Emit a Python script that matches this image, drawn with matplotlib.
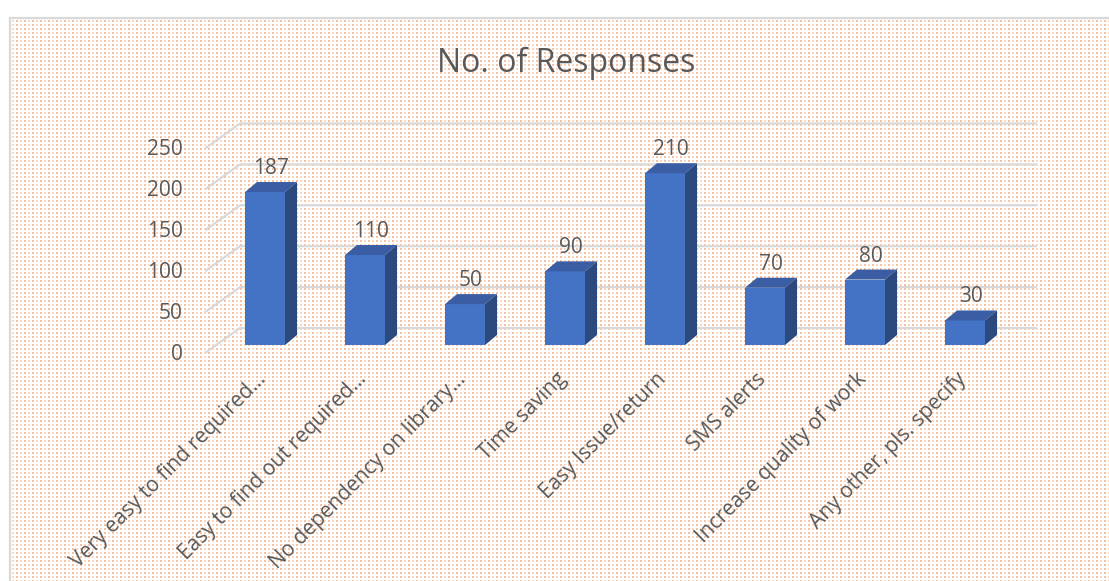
import numpy as np
import matplotlib
matplotlib.use("Agg")
import matplotlib.pyplot as plt
from matplotlib.patches import Polygon, Rectangle
from matplotlib.lines import Line2D

# ---- data -------------------------------------------------------------
categories = [
    "Very easy to find required…",
    "Easy to find out required…",
    "No dependency on library…",
    "Time saving",
    "Easy Issue/return",
    "SMS alerts",
    "Increase quality of work",
    "Any other, pls. specify",
]
responses = [187, 110, 50, 90, 210, 70, 80, 30]
y_ticks = [0, 50, 100, 150, 200, 250]
title = "No. of Responses"

# ---- figure -----------------------------------------------------------
W, H, DPI = 1109, 581, 100
plt.rcParams["font.family"] = ["Open Sans", "DejaVu Sans"]
TEXT = "#595959"
GRID = "#D9D9D9"

fig = plt.figure(figsize=(W / DPI, H / DPI), dpi=DPI)
fig.patch.set_facecolor("white")

# dotted peach fill of the chart area
FX, FY = 10, 18
yy, xx = np.mgrid[0:H, 0:W]
img = np.ones((H, W, 3))
dot = ((xx % 4) < 2) & ((yy % 4) < 2)
strong = ((xx // 4) % 2 == 0)
c_strong = np.array([246, 194, 160]) / 255
c_light = np.array([250, 216, 194]) / 255
img[dot & strong] = c_strong
img[dot & ~strong] = c_light
img[:FY, :] = 1.0
img[:, :FX] = 1.0
fig.figimage(img, xo=0, yo=0, origin="upper", zorder=-5)

# chart border
fig.add_artist(Rectangle((FX / W, -0.1), 1.2, (H - FY) / H + 0.1,
                         transform=fig.transFigure, fill=False,
                         edgecolor=GRID, linewidth=1.6, zorder=-4))

# ---- axes -------------------------------------------------------------
K = 0.818                      # pixels per response unit
x0_px, step_px = 265, 100      # first category centre, spacing
base_px = 345                  # baseline of the bar fronts (from top)
ylim_top = 300
xlim = (-1.0, 8.0)
left_px = x0_px + xlim[0] * step_px
ax = fig.add_axes([left_px / W, (H - base_px) / H,
                   (xlim[1] - xlim[0]) * step_px / W, ylim_top * K / H])
ax.set_xlim(*xlim)
ax.set_ylim(0, ylim_top)
ax.set_axis_off()
ax.patch.set_alpha(0)
ax.set_zorder(2)

def px_x(p):
    return p / step_px

def px_y(p):
    return p / K

# gridlines: slanted floor edge, then along the back wall
front_x, back_x, right_x = px_x(205 - x0_px), px_x(240 - x0_px), px_x(1037 - x0_px)
front_dy, back_dy = px_y(-8), px_y(17)
for v in y_ticks:
    ax.add_line(Line2D([front_x, back_x, right_x],
                       [v + front_dy, v + back_dy, v + back_dy],
                       color=GRID, linewidth=1.6, zorder=2,
                       solid_capstyle="butt", clip_on=False))
    ax.text(px_x(183 - x0_px), v + front_dy - px_y(1), f"{v}", ha="right",
            va="center", fontsize=15, color=TEXT, clip_on=False)

# 3-D bars
half_w = px_x(20)
depth_x, depth_y = px_x(12), px_y(10)
FRONT, TOP, SIDE = "#4472C4", "#3A5DA3", "#2C4A7E"
for i, v in enumerate(responses):
    l, r = i - half_w, i + half_w
    ax.add_patch(Polygon([(l, 0), (r, 0), (r, v), (l, v)], closed=True,
                         facecolor=FRONT, edgecolor="none", zorder=5))
    ax.add_patch(Polygon([(l, v), (r, v), (r + depth_x, v + depth_y),
                          (l + depth_x, v + depth_y)], closed=True,
                         facecolor=TOP, edgecolor="none", zorder=5))
    ax.add_patch(Polygon([(r, 0), (r + depth_x, depth_y),
                          (r + depth_x, v + depth_y), (r, v)], closed=True,
                         facecolor=SIDE, edgecolor="none", zorder=5))
    ax.text(i + depth_x / 2, v + depth_y + px_y(8), f"{v}", ha="center",
            va="baseline", fontsize=15, color=TEXT, zorder=6)

# category labels
for i, name in enumerate(categories):
    ax.text(i - px_x(2), px_y(-31), name, rotation=45,
            rotation_mode="anchor", ha="right", va="center",
            fontsize=15, color=TEXT, clip_on=False)

fig.text(566 / W, 1 - 63 / H, title, ha="center", va="center",
         fontsize=23, color=TEXT)

fig.savefig("out.png", dpi=DPI)
